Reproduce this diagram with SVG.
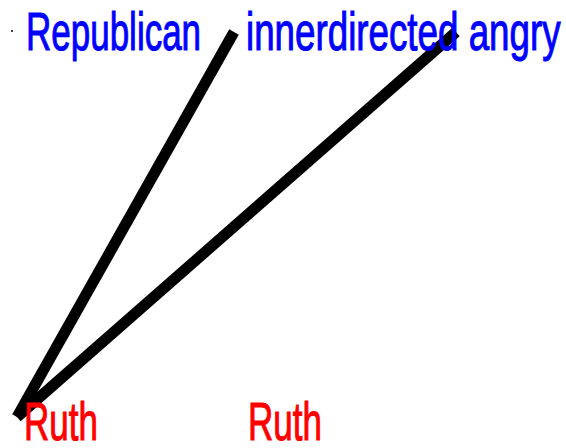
<svg xmlns="http://www.w3.org/2000/svg" width="566" height="448" viewBox="0 0 566 448">
<style>
.lbl{font-family:"Liberation Sans",Arial,sans-serif;font-size:35px;stroke-width:0.7}
.top{fill:#0000ff;stroke:#0000ff}
.bot{fill:#ff0000;stroke:#ff0000}
.edge{stroke:#000;stroke-width:11;fill:none;stroke-linecap:butt}
</style>
<rect width="566" height="448" fill="#fff"/>
<circle cx="12" cy="31" r="1" fill="#000"/>
<g id="connectors">
<line class="edge" x1="17" y1="417" x2="234" y2="32"/>
<line class="edge" x1="17" y1="417" x2="456" y2="32"/>
</g>
<g id="node-republican"><text class="lbl top" transform="translate(26,50) scale(1,1.55)">Republican</text></g>
<g id="node-innerdirected"><text class="lbl top" transform="translate(246,50) scale(1.05,1.55)">innerdirected angry</text></g>
<g id="node-ruth1"><text class="lbl bot" transform="translate(24,440) scale(1,1.55)">Ruth</text></g>
<g id="node-ruth2"><text class="lbl bot" transform="translate(248,440) scale(1,1.55)">Ruth</text></g>
</svg>
